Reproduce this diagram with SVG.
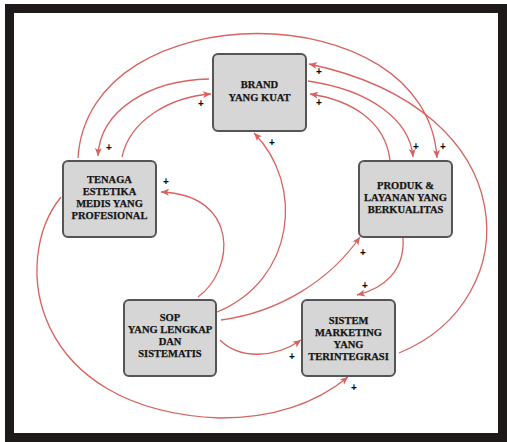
<svg xmlns="http://www.w3.org/2000/svg" width="507" height="442" viewBox="0 0 507 442">
  <style>
    .box { fill: #d6d6d6; stroke: #555555; stroke-width: 2; }
    .lbl { font-family: "Liberation Serif", "DejaVu Serif", serif; font-weight: bold; font-size: 10.5px; fill: #141414; text-anchor: middle; stroke: #141414; stroke-width: 0.25; }
    .link { fill: none; stroke: #d8625f; stroke-width: 1.3; marker-end: url(#arrow); }
    .sign { font-family: "Liberation Sans", Arial, sans-serif; font-weight: bold; font-size: 10px; fill: #000000; text-anchor: middle; }
  </style>
  <defs>
    <marker id="arrow" markerUnits="userSpaceOnUse" markerWidth="9" markerHeight="8" refX="8" refY="4" orient="auto">
      <path d="M0,0.5 L8,4 L0,7.5 L2,4 Z" fill="#d8625f"/>
    </marker>
  </defs>

  <!-- frame -->
  <rect x="0" y="0" width="507" height="442" fill="#ffffff"/>
  <rect x="9.5" y="8.5" width="493" height="429" fill="none" stroke="#1e1a1a" stroke-width="9"/>

  <!-- connectors -->
  <g id="connectors">
    <path class="link" d="M78,158 C 88,-8 427,-8 437,158"/>
    <path class="link" d="M399,353 C 528,300 528,110 309,64"/>
    <path class="link" d="M209,79 C 150,80 100,110 98,156"/>
    <path class="link" d="M122,157 C 130,120 170,97 211,94"/>
    <path class="link" d="M308,81 C 370,90 410,120 413,157"/>
    <path class="link" d="M390,160 C 385,120 350,100 310,94"/>
    <path class="link" d="M217,312 C 295,280 305,185 254,133"/>
    <path class="link" d="M198,297 C 235,270 240,195 161,192"/>
    <path class="link" d="M221,320 C 280,312 330,280 360,237"/>
    <path class="link" d="M220,340 C 240,360 275,358 301,340"/>
    <path class="link" d="M403,238 C 405,270 385,288 357,295"/>
    <path class="link" d="M61,197 C 10,260 30,410 220,418 C 280,418 320,400 348,377"/>
  </g>

  <!-- polarity signs -->
  <g id="signs">
    <text class="sign" x="319" y="75">+</text>
    <text class="sign" x="319" y="106">+</text>
    <text class="sign" x="201" y="107">+</text>
    <text class="sign" x="109" y="151">+</text>
    <text class="sign" x="416" y="150">+</text>
    <text class="sign" x="443" y="150">+</text>
    <text class="sign" x="272" y="146">+</text>
    <text class="sign" x="166" y="185">+</text>
    <text class="sign" x="363" y="256">+</text>
    <text class="sign" x="365" y="289">+</text>
    <text class="sign" x="292" y="360">+</text>
    <text class="sign" x="354" y="391">+</text>
  </g>

  <!-- nodes -->
  <g id="brand">
    <rect class="box" x="213" y="54" width="93" height="77" rx="5"/>
    <text class="lbl" x="259.5" y="88">BRAND</text>
    <text class="lbl" x="259.5" y="101">YANG KUAT</text>
  </g>
  <g id="tenaga">
    <rect class="box" x="63" y="161" width="93" height="76" rx="5"/>
    <text class="lbl" x="109.5" y="183">TENAGA</text>
    <text class="lbl" x="109.5" y="195">ESTETIKA</text>
    <text class="lbl" x="109.5" y="207">MEDIS YANG</text>
    <text class="lbl" x="109.5" y="219">PROFESIONAL</text>
  </g>
  <g id="produk">
    <rect class="box" x="359" y="161" width="93" height="76" rx="5"/>
    <text class="lbl" x="405.5" y="189">PRODUK &amp;</text>
    <text class="lbl" x="405.5" y="201">LAYANAN YANG</text>
    <text class="lbl" x="405.5" y="213">BERKUALITAS</text>
  </g>
  <g id="sop">
    <rect class="box" x="124" y="300" width="92" height="76" rx="5"/>
    <text class="lbl" x="170" y="321">SOP</text>
    <text class="lbl" x="170" y="333">YANG LENGKAP</text>
    <text class="lbl" x="170" y="345">DAN</text>
    <text class="lbl" x="170" y="357">SISTEMATIS</text>
  </g>
  <g id="sistem">
    <rect class="box" x="302" y="300" width="93" height="76" rx="5"/>
    <text class="lbl" x="348.5" y="324">SISTEM</text>
    <text class="lbl" x="348.5" y="336">MARKETING</text>
    <text class="lbl" x="348.5" y="348">YANG</text>
    <text class="lbl" x="348.5" y="360">TERINTEGRASI</text>
  </g>
</svg>
